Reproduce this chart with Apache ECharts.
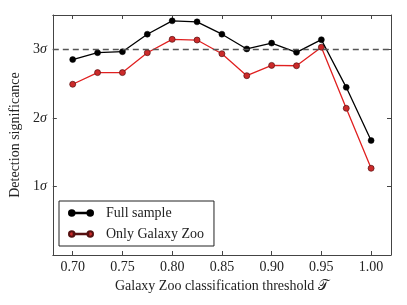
<!DOCTYPE html>
<html><head><meta charset="utf-8">
<script src="https://cdn.jsdelivr.net/npm/echarts@6/dist/echarts.min.js"></script>
<style>html,body{margin:0;padding:0;background:#fff}#c{width:407px;height:305px}</style>
</head><body><div id="c"></div>
<script>
const thresholds = [0.70,0.725,0.75,0.775,0.80,0.825,0.85,0.875,0.90,0.925,0.95,0.975,1.00];
const fullSample = [2.85,2.95,2.965,3.22,3.415,3.40,3.22,3.005,3.09,2.955,3.14,2.445,1.67];
const onlyGalaxyZoo = [2.49,2.66,2.66,2.95,3.145,3.135,2.935,2.615,2.765,2.76,3.03,2.14,1.265];
const xTicks = [0.70,0.75,0.80,0.85,0.90,0.95,1.00];
const yTicks = [1,2,3];
const refLevel = 3;

const FONT = 'Liberation Serif';
const chart = echarts.init(document.getElementById('c'), null, {renderer:'canvas'});
const pairs = (ys) => thresholds.map((x,i)=>[x, ys[i]]);
const legendIcon = 'path://M0,3a3,3 0 1,0 6,0a3,3 0 1,0 -6,0ZM5,2.6h16v0.8h-16ZM20,3a3,3 0 1,0 6,0a3,3 0 1,0 -6,0Z';
const frameColor = '#444';
const line = {show:true,onZero:false,lineStyle:{color:frameColor,width:1}};
chart.setOption({
  animation:false,
  grid:{left:51,right:16,top:15,bottom:50,containLabel:false},
  xAxis:[{
    type:'value', min:0.68, max:1.02, position:'bottom',
    name:'Galaxy Zoo classification threshold 𝒯', nameLocation:'middle', nameGap:24,
    nameTextStyle:{fontFamily:FONT,fontSize:14,color:'#222'},
    axisLine:line,
    axisTick:{show:true,inside:true,length:4,customValues:xTicks,lineStyle:{color:frameColor}},
    axisLabel:{customValues:xTicks,formatter:v=>v.toFixed(2),fontFamily:FONT,fontSize:14,color:'#222',margin:5},
    splitLine:{show:false}
  },{
    type:'value', min:0.68, max:1.02, position:'top',
    axisLine:line,
    axisTick:{show:true,inside:true,length:4,customValues:xTicks,lineStyle:{color:frameColor}},
    axisLabel:{show:false}, splitLine:{show:false}
  }],
  yAxis:[{
    type:'value', min:0, max:3.5, position:'left',
    name:'Detection significance', nameLocation:'middle', nameGap:30, nameRotate:90,
    nameTextStyle:{fontFamily:FONT,fontSize:14,color:'#222'},
    axisLine:line,
    axisTick:{show:true,inside:true,length:4,customValues:yTicks,lineStyle:{color:frameColor}},
    axisLabel:{customValues:yTicks,formatter:v=>'{n|'+v+'}{s|σ}',margin:6,
      rich:{n:{fontFamily:FONT,fontSize:14,color:'#222'},s:{fontFamily:FONT,fontStyle:'italic',fontSize:14,color:'#222'}}},
    splitLine:{show:false}
  },{
    type:'value', min:0, max:3.5, position:'right',
    axisLine:line,
    axisTick:{show:true,inside:true,length:4,customValues:yTicks,lineStyle:{color:frameColor}},
    axisLabel:{show:false}, splitLine:{show:false}
  }],
  legend:{
    left:59, top:201, orient:'vertical', itemGap:7,
    padding:[5,10,5,9], borderColor:'#222', borderWidth:1, borderRadius:0,
    itemWidth:24, itemHeight:6,
    textStyle:{fontFamily:FONT,fontSize:14,color:'#222',padding:[0,0,0,8]},
    data:[{name:'Full sample',icon:legendIcon},{name:'Only Galaxy Zoo',icon:legendIcon}]
  },
  series:[
    {name:'Full sample',type:'line',data:pairs(fullSample),symbol:'circle',symbolSize:6,
      lineStyle:{color:'#000',width:1.3},itemStyle:{color:'#000',borderColor:'#000',borderWidth:0.5},z:4,
      markLine:{silent:true,symbol:['none','none'],label:{show:false},
        lineStyle:{color:'#555',type:[6,4],width:1.4},data:[{yAxis:refLevel}]}},
    {name:'Only Galaxy Zoo',type:'line',data:pairs(onlyGalaxyZoo),symbol:'circle',symbolSize:6,
      lineStyle:{color:'#e02020',width:1.3},itemStyle:{color:'#cc2a2a',borderColor:'#551111',borderWidth:0.7},z:3}
  ]
});
</script></body></html>
